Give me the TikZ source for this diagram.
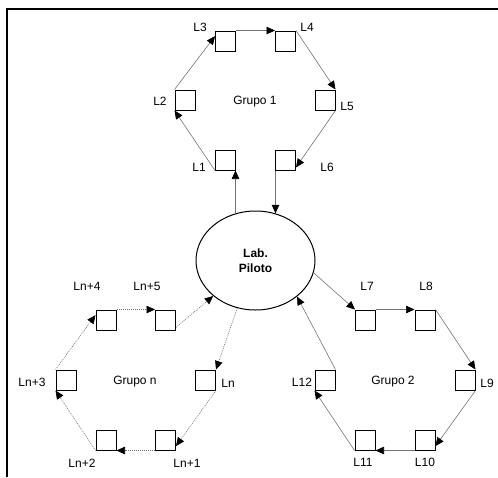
\documentclass[tikz,border=0pt]{standalone}
\usepackage{fontspec}
\setmainfont{Liberation Sans}
\usetikzlibrary{arrows.meta, shapes.geometric}

\begin{document}
\begin{tikzpicture}[x=1pt, y=-1pt,
    box/.style={draw, line width=1pt, minimum size=20pt, inner sep=0pt},
    lbl/.style={font=\fontsize{12}{14}\selectfont, inner sep=0pt},
    link/.style={draw=black!55, line width=0.6pt, -{Triangle[length=8.5pt, width=7.5pt, black]}},
    dlink/.style={link, dash pattern=on 1pt off 1pt}]
    \useasboundingbox (0,0) rectangle (498,477);
    \draw[line width=2pt] (7,477) -- (7,9) -- (498,9);

    \node[draw, ellipse, line width=1pt, minimum width=119pt, minimum height=99pt,
      align=center, font=\fontsize{12}{15}\selectfont\bfseries] (lab) at (255.5,260.5) {Lab.\\Piloto};

    \node[box] (L1) at (225.5,160) {};
    \node[box] (L2) at (185,100) {};
    \node[box] (L3) at (225.5,41) {};
    \node[box] (L4) at (285.5,41) {};
    \node[box] (L5) at (325,100) {};
    \node[box] (L6) at (285.5,160) {};
    \node[lbl] (t1) at (199,167) {L1};
    \node[lbl] (t2) at (160,101) {L2};
    \node[lbl] (t3) at (200,27) {L3};
    \node[lbl] (t4) at (307,27) {L4};
    \node[lbl] (t5) at (347,106) {L5};
    \node[lbl] (t6) at (327,167) {L6};
    \node[lbl] (g1) at (255,102) {Grupo 1};

    \node[box] (L7) at (365.5,320) {};
    \node[box] (L8) at (425,320) {};
    \node[box] (L9) at (465,380) {};
    \node[box] (L10) at (425,440) {};
    \node[box] (L11) at (365,440) {};
    \node[box] (L12) at (325,380) {};
    \node[lbl] (t7) at (367,286) {L7};
    \node[lbl] (t8) at (426,286) {L8};
    \node[lbl] (t9) at (487,383) {L9};
    \node[lbl] (t10) at (425,462) {L10};
    \node[lbl] (t11) at (363,462) {L11};
    \node[lbl] (t12) at (302,382) {L12};
    \node[lbl] (g2) at (393,382) {Grupo 2};

    \node[box] (Ln) at (205.5,380) {};
    \node[box] (Ln1) at (165.5,440) {};
    \node[box] (Ln2) at (106,440) {};
    \node[box] (Ln3) at (66,380) {};
    \node[box] (Ln4) at (106,320) {};
    \node[box] (Ln5) at (165.5,320) {};
    \node[lbl] (tn) at (228,383) {Ln};
    \node[lbl] (tn1) at (187,463) {Ln+1};
    \node[lbl] (tn2) at (82,463) {Ln+2};
    \node[lbl] (tn3) at (32,382) {Ln+3};
    \node[lbl] (tn4) at (87,286) {Ln+4};
    \node[lbl] (tn5) at (147,286) {Ln+5};
    \node[lbl] (gn) at (135,382) {Grupo n};

    \draw[link] (L1.south west) -- (L2.south west);
    \draw[link] (L2.north west) -- (L3.155);
    \draw[link] (L3.north east) -- (L4.north west);
    \draw[link] (L4.north east) -- (L5.north east);
    \draw[link] (L5.south east) -- (L6.-35);
    \draw[link] (lab.113) -- (lab.113 |- L1.south);
    \draw[link] (lab.67 |- L6.south) -- (lab.67);

    \draw[link] (lab.-12) -- (L7.north west);
    \draw[link] (L7.north east) -- (L8.north west);
    \draw[link] (L8.north east) -- (L9.north east);
    \draw[link] (L9.south east) -- (L10.-30);
    \draw[link] (L10.south west) -- (L11.south east);
    \draw[link] (L11.south west) -- (L12.south west);
    \draw[link] (L12.north east) -- (lab.-41);

    \draw[dlink] (lab.-111) -- (Ln.north east);
    \draw[dlink] (Ln.south east) -- (Ln1.-30);
    \draw[dlink] (Ln1.south west) -- (Ln2.south east);
    \draw[dlink] (Ln2.south west) -- (Ln3.south west);
    \draw[dlink] (Ln3.north west) -- (Ln4.155);
    \draw[dlink] (Ln4.north east) -- (Ln5.north west);
    \draw[dlink] (Ln5.-35) -- (lab.-140);
\end{tikzpicture}
\end{document}
